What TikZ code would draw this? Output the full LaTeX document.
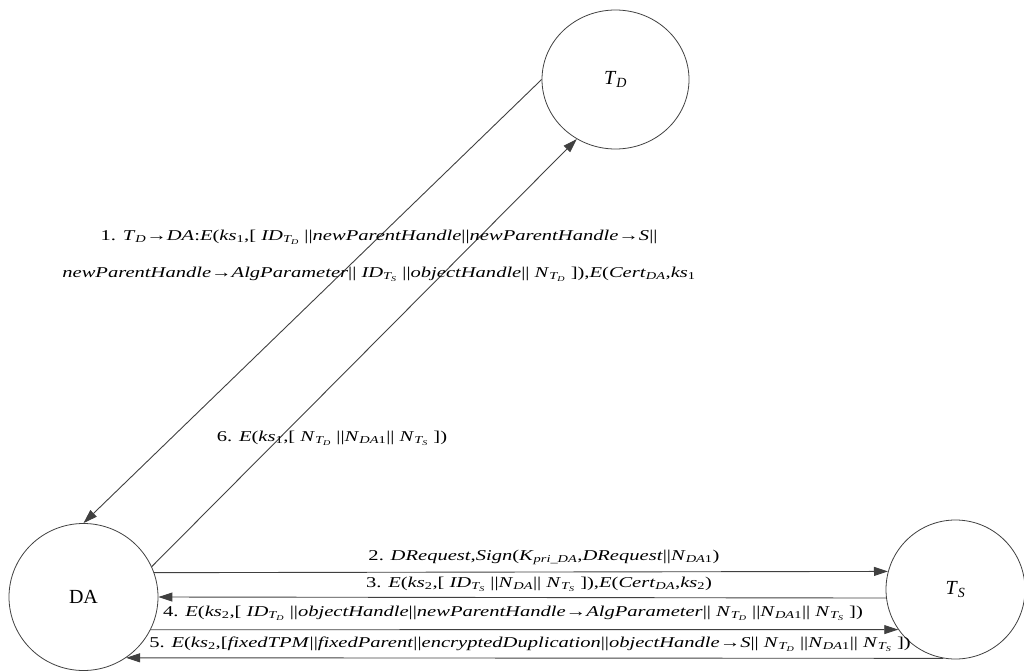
\documentclass[tikz,border=0pt]{standalone}
\usepackage{fontspec}
\setmainfont{Liberation Serif}
\newfontfamily\lblfont{Liberation Serif}[FakeStretch=1.37]
\usetikzlibrary{arrows.meta,shapes.geometric}
\newcommand{\sub}[1]{\textsubscript{#1}}
\newcommand{\I}[1]{\textit{#1}}
\newcommand{\ar}{\textrightarrow}
\tikzset{
  party/.style={draw=black!75, line width=0.8pt, ellipse, inner sep=0pt, font=\fontsize{20}{24}\selectfont},
  msg/.style={draw=black!75, line width=0.9pt, -{Triangle[length=14pt,width=9pt]}},
  lbl/.style={inner sep=0pt, font=\lblfont\fontsize{15}{37}\selectfont}
}
\begin{document}
\begin{tikzpicture}[x=1pt,y=-1pt]
\useasboundingbox (0,0) rectangle (1024,671);
\node[party, minimum width=149pt, minimum height=147pt] (DA) at (83.5,597) {DA};
\node[party, minimum width=147pt, minimum height=139pt] (TD) at (615.5,79.5) {\I{T}\sub{\I{D}}};
\node[party, minimum width=139pt, minimum height=139pt] (TS) at (955.5,589.5) {\I{T}\sub{\I{S}}};

\draw[msg] (TD.west) -- (DA.north);
\draw[msg] (DA.24.6) -- (TD.237.8);
\draw[msg] (DA.19.65) -- (TS.165.4);
\draw[msg] (TS.187) -- (DA.-0.8);
\draw[msg] (DA.-26.4) -- (TS.215.6);
\draw[msg] (TS.260.3) -- (DA.-55.7);

\node[lbl, align=center] (l1) at (379,256) {1. \I{T}\sub{\I{D}}\ar\I{DA}:\I{E}(\I{ks}\sub{1},[ \I{ID}\sub{\I{T\sub{D}}} ||\I{newParentHandle}||\I{newParentHandle}\ar\I{S}||\\
\I{newParentHandle}\ar\I{AlgParameter}|| \I{ID}\sub{\I{T\sub{S}}} ||\I{objectHandle}|| \I{N}\sub{\I{T\sub{D}}} ]),\I{E}(\I{Cert}\sub{\I{DA}},\I{ks}\sub{1}};
\node[lbl] (l6) at (332,438) {6. \I{E}(\I{ks}\sub{1},[ \I{N}\sub{\I{T\sub{D}}} ||\I{N}\sub{\I{DA}1}|| \I{N}\sub{\I{T\sub{S}}} ])};
\node[lbl] (l2) at (544,557) {2. \I{DRequest},\I{Sign}(\I{K}\sub{\I{pri\_DA}},\I{DRequest}||\I{N}\sub{\I{DA}1})};
\node[lbl] (l3) at (539,584) {3. \I{E}(\I{ks}\sub{2},[ \I{ID}\sub{\I{T\sub{S}}} ||\I{N}\sub{\I{DA}}|| \I{N}\sub{\I{T\sub{S}}} ]),\I{E}(\I{Cert}\sub{\I{DA}},\I{ks}\sub{2})};
\node[lbl] (l4) at (513,613) {4. \I{E}(\I{ks}\sub{2},[ \I{ID}\sub{\I{T\sub{D}}} ||\I{objectHandle}||\I{newParentHandle}\ar\I{AlgParameter}|| \I{N}\sub{\I{T\sub{D}}} ||\I{N}\sub{\I{DA}1}|| \I{N}\sub{\I{T\sub{S}}} ])};
\node[lbl] (l5) at (530,644) {5. \I{E}(\I{ks}\sub{2},[\I{fixedTPM}||\I{fixedParent}||\I{encryptedDuplication}||\I{objectHandle}\ar\I{S}|| \I{N}\sub{\I{T\sub{D}}} ||\I{N}\sub{\I{DA}1}|| \I{N}\sub{\I{T\sub{S}}} ])};
\end{tikzpicture}
\end{document}
